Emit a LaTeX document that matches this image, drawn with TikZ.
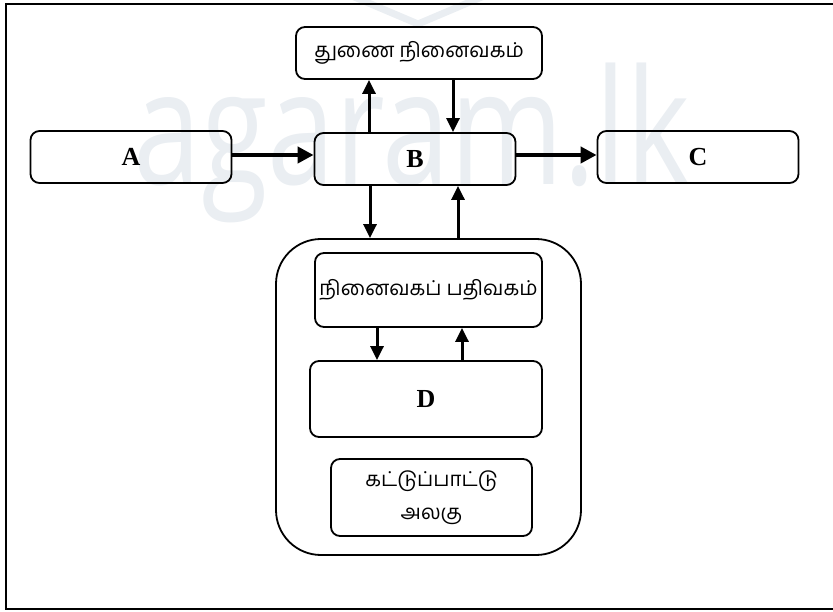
\documentclass[tikz,border=0pt]{standalone}
\usepackage{fontspec}
\setmainfont{Liberation Serif}
\newfontfamily\tamilfont[Script=Tamil]{Hind Madurai}
\newfontfamily\markfont{Open Sans}
\usetikzlibrary{arrows.meta}

\definecolor{markgray}{RGB}{234,238,242}

\tikzset{
  blk/.style={draw, line width=1.8pt, rounded corners=9pt, inner sep=0pt,
    font=\bfseries\fontsize{26}{30}\selectfont},
  tbox/.style={draw, line width=1.8pt, rounded corners=9pt, inner sep=0pt,
    font=\tamilfont\fontsize{20.5}{33}\selectfont, align=center},
  arr/.style={line width=3pt, -{Triangle[length=14pt,width=13pt]}},
  harr/.style={line width=4.5pt, -{Triangle[length=16pt,width=16pt]}},
}

\begin{document}
\begin{tikzpicture}[x=1pt, y=-1pt]
    \useasboundingbox (0,0) rectangle (833,612);

    % Watermark in the background
    \node[text=markgray, font=\markfont\fontsize{160}{160}\selectfont, xscale=0.76,
          anchor=base, inner sep=0pt] (mark) at (412,185) {agaram.lk};
    \draw[markgray, line width=7pt] (352,-4) -- (418,24) -- (484,-4);

    % Outer frame (right side runs off the page)
    \draw[line width=2.5pt] (845,4) -- (6,4) -- (6,609) -- (845,609);

    % Top row: A, B and C
    \foreach \n/\x/\y in {A/131/157, B/415/159, C/698/157} {
        \node[blk, minimum width=201pt, minimum height=52pt] (\n) at (\x,\y) {\n};
    }

    % Secondary memory above B
    \node[tbox, minimum width=246pt, minimum height=52pt] (aux) at (419,53) {துணை நினைவகம்};

    % Container below B
    \node[draw, line width=1.8pt, rounded corners=45pt, inner sep=0pt,
          minimum width=305pt, minimum height=316pt] (big) at (428.5,397) {};
    \node[tbox, minimum width=227pt, minimum height=74pt] (reg) at (428.5,290) {நினைவகப் பதிவகம்};
    \node[blk, minimum width=232pt, minimum height=76pt] (D) at (426,399) {D};
    \node[tbox, minimum width=201pt, minimum height=77pt] (cu) at (431.5,497.5) {கட்டுப்பாட்டு\\அலகு};

    % Horizontal flow
    \draw[harr] ([yshift=2pt]A.east) -- ([yshift=2pt]A.east -| B.west);
    \draw[harr] ([yshift=4pt]B.east) -- ([yshift=4pt]B.east -| C.west);

    % B and secondary memory
    \draw[arr] ([xshift=-46pt]B.north) -- ([xshift=-46pt]B.north |- aux.south);
    \draw[arr] ([xshift=34pt]aux.south) -- ([xshift=34pt]aux.south |- B.north);

    % B and the container
    \draw[arr] ([xshift=-45pt]B.south) -- ([xshift=-45pt]B.south |- big.north);
    \draw[arr] ([xshift=43pt]B.south |- big.north) -- ([xshift=43pt]B.south);

    % Register and D
    \draw[arr] ([xshift=-51.5pt]reg.south) -- ([xshift=-51.5pt]reg.south |- D.north);
    \draw[arr] ([xshift=36pt]D.north) -- ([xshift=36pt]D.north |- reg.south);
\end{tikzpicture}
\end{document}
